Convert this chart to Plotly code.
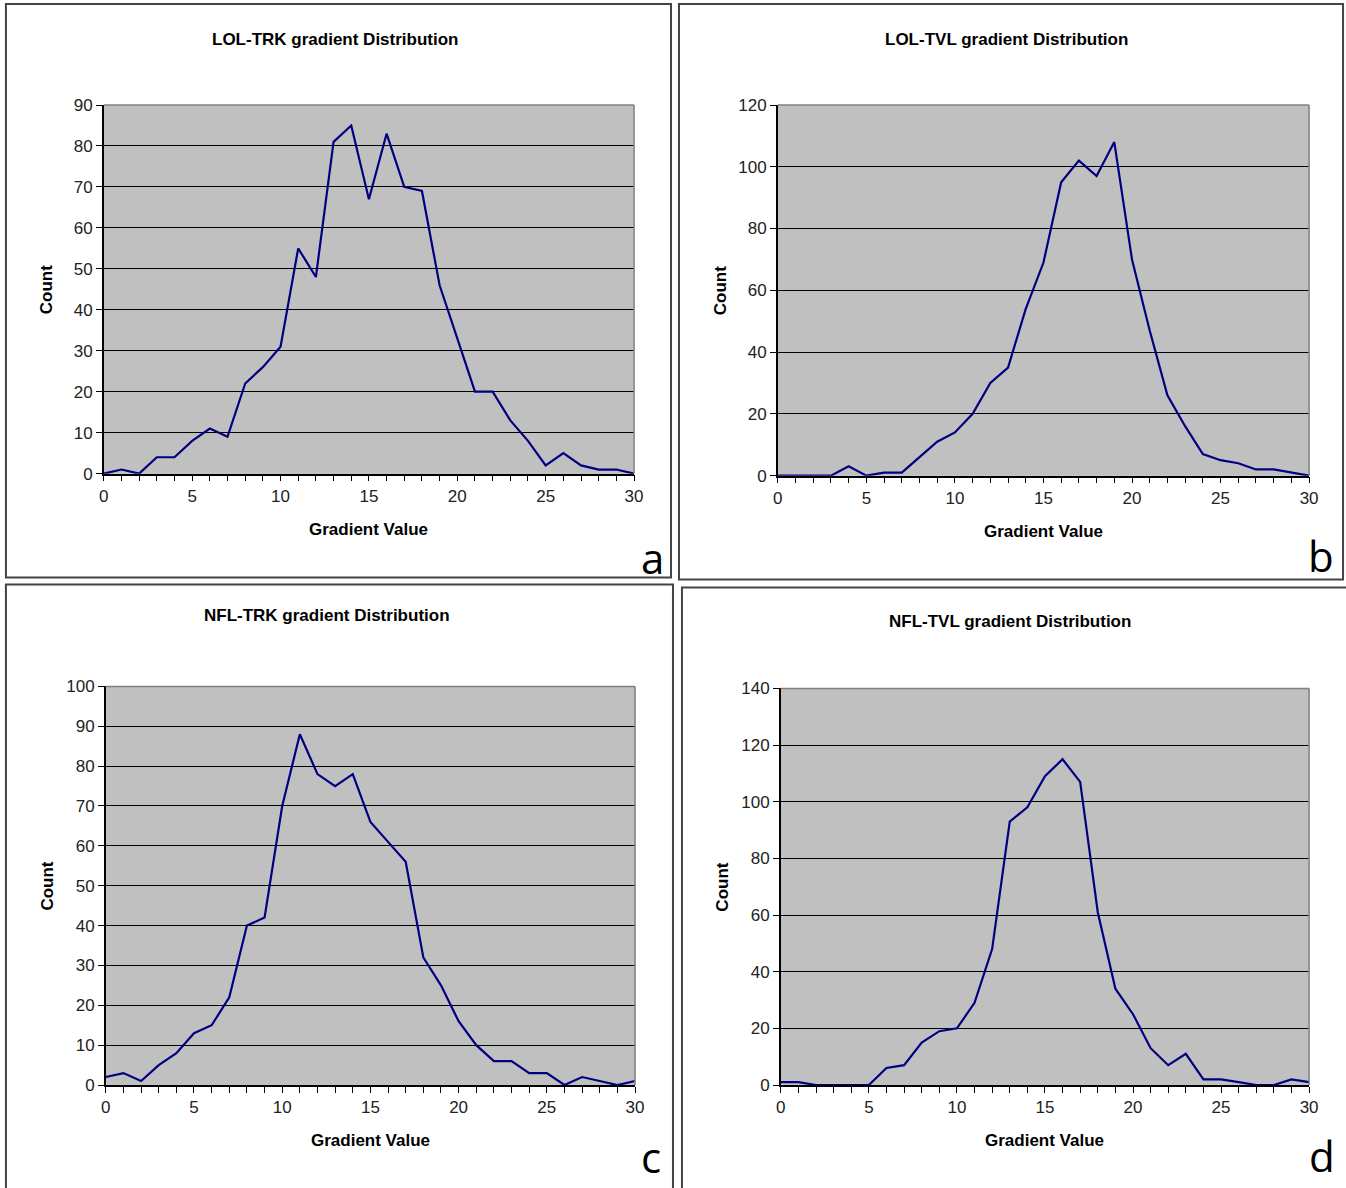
import plotly.graph_objects as go

W, H = 1346, 1188

gradient = list(range(0, 31))

lol_trk = [0, 1, 0, 4, 4, 8, 11, 9, 22, 26, 31, 55, 48, 81, 85, 67, 83, 70, 69, 46,
           33, 20, 20, 13, 8, 2, 5, 2, 1, 1, 0]
lol_tvl = [0, 0, 0, 0, 3, 0, 1, 1, 6, 11, 14, 20, 30, 35, 54, 69, 95, 102, 97, 108,
           70, 47, 26, 16, 7, 5, 4, 2, 2, 1, 0]
nfl_trk = [2, 3, 1, 5, 8, 13, 15, 22, 40, 42, 70, 88, 78, 75, 78, 66, 61, 56, 32, 25,
           16, 10, 6, 6, 3, 3, 0, 2, 1, 0, 1]
nfl_tvl = [1, 1, 0, 0, 0, 0, 6, 7, 15, 19, 20, 29, 48, 93, 98, 109, 115, 107, 61, 34,
           25, 13, 7, 11, 2, 2, 1, 0, 0, 2, 1]

titles = ["LOL-TRK gradient Distribution", "LOL-TVL gradient Distribution",
          "NFL-TRK gradient Distribution", "NFL-TVL gradient Distribution"]
series = [lol_trk, lol_tvl, nfl_trk, nfl_tvl]
y_max = [90, 120, 100, 140]
y_step = [10, 20, 10, 20]
letters = ["a", "b", "c", "d"]
x_title = "Gradient Value"
y_title = "Count"

# target geometry (pixels in the final picture)
plot_boxes = [(103, 634, 104, 473), (778, 1310, 104, 475),
              (105, 635, 686, 1085), (781, 1310, 688, 1085)]
panel_boxes = [(5, 671, 3, 577), (679, 1344, 3, 579),
               (5, 673, 584, 1200), (682, 1360, 587, 1200)]
title_pos = [(335, 38), (1007, 38), (327, 615), (1010, 621)]
letter_pos = [(652, 557), (1322, 555), (651, 1157), (1323, 1156)]

# measured mapping of the capture: picture = a + s * window
AX, SX = 4.07, 0.991
AY, SY = 7.9, 0.985


def px(x):
    return ((x - AX) / SX) / W


def py(y):
    return 1 - ((y - AY) / SY) / H


fig = go.Figure()
shapes = []
annotations = []
FS = 17

for i in range(4):
    n = "" if i == 0 else str(i + 1)
    x0, x1, y0, y1 = plot_boxes[i]
    fig.add_trace(go.Scatter(x=gradient, y=series[i], mode="lines",
                             line=dict(color="#000080", width=2.2),
                             xaxis="x" + n, yaxis="y" + n, showlegend=False))
    fig.layout["xaxis" + n] = dict(
        domain=[px(x0), px(x1)], anchor="y" + n, range=[0, 30],
        tickmode="array", tickvals=[0, 5, 10, 15, 20, 25, 30],
        ticks="outside", ticklen=6, tickcolor="black", tickwidth=1,
        minor=dict(dtick=1, tick0=0, ticks="outside", ticklen=6, tickcolor="black", tickwidth=1),
        showline=True, linecolor="black", linewidth=1.5, showgrid=False, zeroline=False,
        tickfont=dict(family="Liberation Sans, Arial", size=FS, color="#222"),
        fixedrange=True)
    fig.layout["yaxis" + n] = dict(
        domain=[py(y1), py(y0)], anchor="x" + n, range=[0, y_max[i]],
        dtick=y_step[i], tick0=0,
        ticks="outside", ticklen=6, tickcolor="black", tickwidth=1,
        showline=True, linecolor="black", linewidth=1.5,
        showgrid=True, gridcolor="black", gridwidth=1, zeroline=False,
        tickfont=dict(family="Liberation Sans, Arial", size=FS, color="#222"),
        fixedrange=True)
    shapes.append(dict(type="rect", xref="paper", yref="paper",
                       x0=px(x0), x1=px(x1), y0=py(y1), y1=py(y0),
                       fillcolor="#C0C0C0", line=dict(width=0), layer="below"))
    shapes.append(dict(type="line", xref="paper", yref="paper",
                       x0=px(x0), x1=px(x1), y0=py(y0), y1=py(y0),
                       line=dict(color="#808080", width=1.5)))
    shapes.append(dict(type="line", xref="paper", yref="paper",
                       x0=px(x1), x1=px(x1), y0=py(y0), y1=py(y1),
                       line=dict(color="#808080", width=1.5)))
    bx0, bx1, by0, by1 = panel_boxes[i]
    shapes.append(dict(type="rect", xref="paper", yref="paper",
                       x0=px(bx0), x1=px(bx1), y0=py(by1), y1=py(by0),
                       line=dict(color="#444", width=2), fillcolor="rgba(0,0,0,0)"))
    tx, ty = title_pos[i]
    annotations.append(dict(text="<b>" + titles[i] + "</b>", x=px(tx), y=py(ty),
                            xref="paper", yref="paper", showarrow=False,
                            xanchor="center", yanchor="middle",
                            font=dict(family="Liberation Sans, Arial", size=FS, color="black")))
    annotations.append(dict(text="<b>" + x_title + "</b>", x=px((x0 + x1) / 2), y=py(y1 + 56),
                            xref="paper", yref="paper", showarrow=False,
                            xanchor="center", yanchor="middle",
                            font=dict(family="Liberation Sans, Arial", size=FS, color="black")))
    annotations.append(dict(text="<b>" + y_title + "</b>", x=px(x0 - 58), y=py((y0 + y1) / 2),
                            xref="paper", yref="paper", showarrow=False, textangle=-90,
                            xanchor="center", yanchor="middle",
                            font=dict(family="Liberation Sans, Arial", size=FS, color="black")))
    lx, ly = letter_pos[i]
    annotations.append(dict(text=letters[i], x=px(lx), y=py(ly),
                            xref="paper", yref="paper", showarrow=False,
                            xanchor="center", yanchor="middle",
                            font=dict(family="Open Sans, Noto Sans", size=42, color="black")))

fig.update_layout(width=W, height=H, autosize=False,
                  margin=dict(l=0, r=0, t=0, b=0),
                  paper_bgcolor="white", plot_bgcolor="#C0C0C0",
                  shapes=shapes, annotations=annotations, showlegend=False)

fig.write_html("out.html", config=dict(displayModeBar=False),
               post_script="document.body.style.margin='0';"
                           "document.documentElement.style.overflow='hidden';")
